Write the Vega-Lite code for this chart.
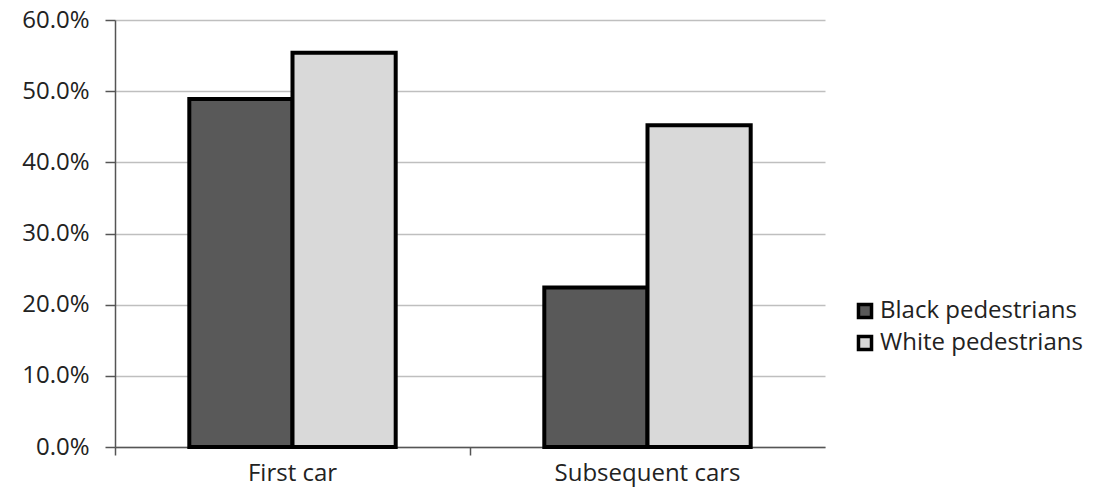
{
  "$schema": "https://vega.github.io/schema/vega-lite/v6.json",
  "width": 710,
  "height": 427,
  "autosize": {"type": "none"},
  "padding": {"left": 115, "top": 20, "right": 289, "bottom": 50},
  "background": "white",
  "config": {
    "view": {"stroke": null},
    "font": "Open Sans"
  },
  "data": {
    "values": [
      {"car": "First car", "group": "Black pedestrians", "value": 0.489},
      {"car": "First car", "group": "White pedestrians", "value": 0.554},
      {"car": "Subsequent cars", "group": "Black pedestrians", "value": 0.224},
      {"car": "Subsequent cars", "group": "White pedestrians", "value": 0.452}
    ]
  },
  "mark": {"type": "bar", "stroke": "black", "strokeWidth": 4},
  "encoding": {
    "x": {
      "field": "car",
      "type": "nominal",
      "sort": ["First car", "Subsequent cars"],
      "scale": {"paddingInner": 0, "paddingOuter": 0},
      "axis": {
        "title": null,
        "labelAngle": 0,
        "bandPosition": 0,
        "labelLimit": 0,
        "labelFontSize": 24,
        "labelColor": "#222222",
        "labelPadding": 6,
        "domainColor": "#555555",
        "domainWidth": 1.5,
        "tickColor": "#555555",
        "tickWidth": 1.5,
        "tickSize": 8,
        "grid": false
      }
    },
    "xOffset": {
      "field": "group",
      "type": "nominal",
      "scale": {"paddingInner": 0, "paddingOuter": 0.72}
    },
    "y": {
      "field": "value",
      "type": "quantitative",
      "scale": {"domain": [0, 0.6], "nice": false},
      "axis": {
        "title": null,
        "format": ".1%",
        "values": [0, 0.1, 0.2, 0.3, 0.4, 0.5, 0.6],
        "labelFontSize": 24,
        "labelColor": "#222222",
        "labelPadding": 16,
        "domainColor": "#555555",
        "domainWidth": 1.5,
        "tickColor": "#555555",
        "tickWidth": 1.5,
        "tickSize": 10,
        "gridColor": "#bfbfbf",
        "gridWidth": 1.5
      }
    },
    "fill": {
      "field": "group",
      "type": "nominal",
      "scale": {"domain": ["Black pedestrians", "White pedestrians"], "range": ["#595959", "#d9d9d9"]},
      "legend": {
        "title": null,
        "orient": "none",
        "legendX": 738,
        "legendY": 279,
        "symbolType": "square",
        "symbolSize": 170,
        "symbolStrokeColor": "black",
        "symbolStrokeWidth": 3.5,
        "labelFontSize": 24,
        "labelLimit": 0,
        "labelColor": "#222222",
        "rowPadding": 4,
        "labelOffset": 3
      }
    }
  }
}
